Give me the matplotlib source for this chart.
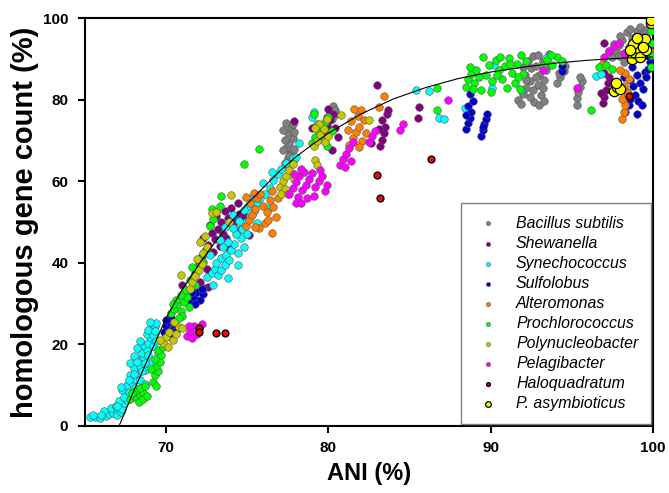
import matplotlib
matplotlib.use("Agg")
import matplotlib.pyplot as plt

plt.rcParams['font.family'] = ['Liberation Sans', 'DejaVu Sans']

# ---- data (ANI %, homologous gene count %) ----
bacillus = [(77.3, 64.6), (77.5, 65.8), (77.7, 67.0), (77.4, 68.2), (77.6, 69.4), (77.8, 70.6),
            (77.5, 71.8), (77.7, 73.0), (77.4, 74.2), (77.9, 72.2), (77.3, 70.2), (77.9, 68.0),
            (77.6, 66.2), (77.2, 67.6), (77.8, 74.0), (77.2, 72.6), (77.9, 65.4), (77.5, 63.6),
            (79.9, 75.8), (80.1, 77.0), (80.3, 78.4), (80.5, 76.4), (80.2, 75.2), (80.4, 77.6),
            (91.7, 80.0), (91.9, 79.0), (92.0, 81.4), (92.2, 83.0), (92.4, 84.6),
            (92.1, 86.2), (92.5, 87.8), (92.3, 89.4), (92.6, 90.8), (92.8, 88.4), (93.0, 86.0),
            (92.9, 83.6), (93.1, 81.2), (93.3, 84.8), (93.4, 87.2), (93.2, 89.6), (92.7, 79.4),
            (93.6, 91.2), (92.0, 88.0), (93.0, 78.6), (92.6, 82.4), (92.4, 80.6), (93.2, 82.8),
            (92.8, 85.6), (92.2, 84.8), (93.5, 88.6), (92.9, 91.0), (93.3, 79.8),
            (94.1, 84.2), (94.3, 85.6), (94.5, 87.0),
            (94.6, 88.2), (94.2, 86.6), (95.3, 80.4), (95.4, 81.8), (95.5, 83.2), (95.6, 84.6),
            (95.3, 78.7), (95.5, 85.6), (97.5, 90.6), (97.7, 92.0), (97.9, 93.4), (98.1, 94.6),
            (98.3, 91.2), (98.5, 93.0), (98.7, 95.2), (98.4, 96.6), (98.9, 92.4), (99.1, 94.0),
            (99.3, 95.6), (99.5, 97.0), (99.6, 93.4), (97.9, 90.8), (98.2, 89.2), (99.0, 96.8),
            (99.4, 91.6), (98.0, 95.6), (98.6, 97.4), (99.2, 97.8), (97.6, 93.8), (98.8, 90.2)]

shewanella = [(72.0, 40.0), (72.2, 41.6), (72.4, 43.0), (72.6, 44.4), (72.3, 46.0), (72.8, 47.4),
              (73.0, 45.8), (72.7, 49.2), (73.2, 48.4), (73.4, 50.0), (73.1, 51.6), (73.6, 52.6),
              (73.8, 51.0), (74.0, 53.4), (73.5, 47.2), (73.3, 44.2), (72.9, 42.6), (73.7, 46.0),
              (74.1, 49.0), (74.3, 50.6), (74.5, 52.0), (74.4, 54.6), (72.5, 38.6), (71.8, 37.4),
              (72.1, 35.2), (74.8, 51.4), (74.6, 48.2), (75.1, 46.8), (73.9, 43.6), (71.2, 30.6),
              (72.6, 34.0), (71.0, 34.6), (72.3, 33.8), (79.7, 72.0), (79.9, 73.6), (80.1, 75.0),
              (80.3, 76.6), (80.0, 77.8), (80.4, 73.0), (80.2, 67.6), (79.0, 73.0), (80.6, 70.8),
              (77.9, 74.8), (83.2, 68.6), (83.3, 70.2), (83.4, 71.8), (83.5, 73.4), (83.3, 75.0),
              (83.6, 76.4), (83.7, 77.6), (83.0, 83.6), (82.6, 69.4), (83.1, 72.8), (85.6, 78.2),
              (85.5, 75.5), (96.9, 79.2), (97.0, 80.8), (97.1, 82.4), (97.2, 84.0), (97.3, 85.6),
              (97.0, 86.6), (97.0, 94.0), (97.3, 92.0), (96.8, 81.6)]

synechococcus = [(65.3, 2.2), (65.6, 2.2), (65.9, 2.0), (66.3, 2.4), (66.5, 3.0), (66.2, 3.6),
                 (66.7, 3.2), (66.9, 3.8), (67.0, 2.8), (67.2, 3.4), (66.6, 4.4), (66.9, 4.8),
                 (67.3, 4.2), (67.4, 5.6), (67.6, 6.4), (67.1, 6.0), (67.5, 7.6), (67.7, 8.4),
                 (67.3, 8.8), (67.6, 10.0), (67.9, 10.6), (68.1, 11.6), (67.8, 12.4), (68.2, 13.0),
                 (68.0, 14.2), (68.4, 14.8), (68.3, 16.2), (68.6, 16.8), (68.5, 18.0), (68.8, 18.6),
                 (68.6, 19.8), (68.9, 20.4), (69.0, 21.8), (68.8, 22.6), (69.2, 22.4), (69.1, 23.8),
                 (69.3, 24.6), (69.4, 25.2), (69.0, 25.4), (68.4, 20.8), (68.2, 19.0), (68.0, 17.2),
                 (67.8, 15.4), (68.9, 17.4), (69.2, 19.6), (69.4, 20.8), (68.7, 13.8), (68.4, 11.2),
                 (68.1, 9.2), (67.9, 7.0), (68.3, 7.8), (68.7, 10.4), (69.1, 15.4), (69.5, 18.0),
                 (66.0, 2.8), (65.5, 2.8), (67.0, 5.0), (67.4, 7.0), (67.2, 9.6), (67.7, 11.2),
                 (68.0, 12.8), (68.5, 13.6), (68.2, 15.8), (68.7, 15.4), (68.9, 23.6), (69.3, 23.2),
                 (72.5, 36.5), (72.8, 37.5), (73.0, 38.5), (73.2, 37.0), (73.4, 38.2), (73.6, 39.4),
                 (73.1, 40.0), (73.4, 41.2), (73.7, 42.0), (73.9, 40.6), (74.0, 43.2), (73.5, 43.8),
                 (74.2, 44.6), (74.4, 42.4), (74.6, 46.0), (73.8, 45.2), (74.3, 47.2), (74.7, 48.4),
                 (74.9, 50.0), (75.2, 51.6), (75.4, 52.8), (75.0, 53.8), (75.6, 54.6), (75.8, 56.0),
                 (76.1, 57.0), (76.4, 58.4), (76.0, 59.6), (76.6, 60.4), (76.9, 61.8), (77.1, 63.0),
                 (76.5, 62.4), (77.4, 64.6), (77.8, 65.6), (78.0, 66.0), (75.3, 55.8), (74.8, 53.0),
                 (74.5, 50.2), (74.1, 48.6), (73.3, 45.6), (72.7, 42.0), (72.9, 34.6), (73.8, 36.2),
                 (74.4, 39.4), (74.8, 44.0), (75.0, 47.0), (75.6, 49.8), (74.1, 51.8), (73.6, 48.8),
                 (76.3, 53.4), (79.1, 77.0), (79.0, 75.7), (78.2, 69.4), (85.4, 82.4), (86.2, 82.1),
                 (86.8, 75.5), (87.1, 75.2), (88.4, 78.0), (90.2, 88.5), (90.1, 82.8), (91.9, 82.4),
                 (93.4, 90.2), (96.5, 85.8), (96.8, 86.3)]

sulfolobus = [(69.9, 23.0), (70.0, 24.4), (70.2, 25.6), (70.1, 22.6), (70.3, 26.6), (70.4, 23.8),
              (70.5, 25.0), (70.6, 23.2), (70.0, 26.0), (70.3, 21.8), (71.5, 30.4), (71.7, 31.6),
              (71.9, 32.8), (72.1, 31.0), (72.3, 32.4), (71.8, 29.8), (72.2, 33.6), (71.6, 32.8),
              (88.5, 72.8), (88.6, 74.2), (88.7, 75.6), (88.8, 77.0), (88.6, 78.4), (88.9, 79.8),
              (88.7, 81.4), (88.5, 76.2), (89.4, 71.2), (89.5, 72.6), (89.6, 74.0), (89.7, 75.4),
              (89.8, 76.6), (89.5, 73.4), (94.4, 87.0), (94.4, 88.4), (98.3, 77.0), (98.5, 78.6),
              (98.6, 80.2), (98.4, 82.0), (98.8, 83.4), (98.6, 84.8), (99.0, 86.2), (98.9, 81.2),
              (99.1, 79.6), (99.3, 78.7), (99.2, 84.0), (99.4, 82.6), (99.5, 86.8), (98.2, 85.6),
              (99.6, 85.5), (99.7, 87.6), (99.8, 89.2), (99.7, 90.8), (99.9, 92.4), (99.8, 94.0),
              (98.7, 88.0), (99.0, 76.4)]

alteromonas = [(74.9, 49.0), (75.1, 50.4), (75.3, 51.8), (75.5, 53.2), (75.2, 54.6), (75.6, 55.8),
               (75.8, 57.0), (76.0, 54.0), (76.2, 52.4), (76.4, 55.4), (76.6, 53.6), (76.8, 51.2),
               (76.1, 49.8), (75.7, 48.6), (76.5, 57.6), (75.4, 57.2), (76.9, 55.8), (75.5, 48.8),
               (76.5, 47.3), (74.9, 56.2), (76.3, 50.6), (81.3, 69.0), (81.5, 70.6), (81.7, 72.0),
               (81.9, 73.4), (81.4, 74.8), (81.8, 76.0), (82.0, 77.4), (82.2, 75.0), (81.6, 77.8),
               (82.3, 71.8), (81.2, 72.6), (82.1, 69.8), (81.9, 68.4), (83.4, 81.0), (83.1, 78.2),
               (98.1, 75.4), (98.2, 77.0), (98.3, 78.6), (98.1, 80.2), (98.4, 81.8), (98.2, 83.4),
               (98.5, 85.0), (98.3, 86.6), (98.0, 87.4), (99.8, 92.0), (99.8, 93.8), (96.9, 89.0)]

prochlorococcus = [(67.8, 6.6), (68.0, 7.4), (68.2, 6.8), (68.4, 7.6), (68.6, 8.2), (68.1, 8.6),
                   (68.4, 9.4), (68.7, 9.8), (67.9, 8.0), (68.3, 5.8), (68.6, 6.6), (68.8, 7.4),
                   (69.2, 10.8), (69.3, 12.6), (69.5, 13.4), (69.4, 14.8), (69.6, 15.6), (69.3, 16.4),
                   (69.7, 17.4), (69.5, 18.6), (69.1, 14.0), (69.4, 9.8), (69.8, 19.4),
                   (70.3, 27.6), (70.5, 28.8), (70.7, 29.8), (70.9, 28.2), (71.1, 30.4), (71.3, 31.6),
                   (70.6, 31.0), (70.9, 32.2), (71.2, 33.4), (70.4, 30.0), (71.0, 27.0), (71.4, 29.2),
                   (70.8, 26.6), (71.5, 35.8), (71.7, 36.8), (71.9, 38.0), (72.1, 39.4), (71.6, 39.0),
                   (72.0, 41.0), (72.3, 40.2), (71.8, 34.6), (72.7, 49.0), (72.9, 50.8), (73.1, 52.4),
                   (72.8, 53.2), (73.3, 54.0), (73.4, 56.4), (74.8, 64.2), (75.7, 68.0),
                   (79.0, 69.4), (79.2, 70.8), (79.4, 72.0), (79.6, 73.4), (79.8, 74.6), (80.0, 75.8),
                   (79.3, 74.0), (79.7, 70.2), (80.2, 72.4), (79.1, 76.4), (79.9, 68.6),
                   (86.7, 83.0), (86.7, 77.5), (88.5, 83.2), (88.6, 85.0), (88.8, 86.4), (89.0, 84.2),
                   (88.7, 88.0), (89.1, 87.2), (89.4, 82.4), (89.7, 86.0), (89.9, 88.6), (90.1, 84.6),
                   (90.3, 89.8), (90.5, 87.4), (90.7, 85.2), (90.9, 88.4), (91.1, 90.2), (91.3, 86.6),
                   (91.5, 84.2), (91.6, 88.8), (91.8, 82.6), (92.0, 86.4), (92.2, 89.6), (90.0, 81.8),
                   (91.0, 83.0), (89.5, 90.4), (91.9, 91.0), (89.3, 85.6), (90.4, 86.0), (91.2, 88.8),
                   (90.6, 90.6), (88.9, 82.6), (91.7, 85.6), (93.2, 88.2), (93.5, 89.8), (93.8, 88.6),
                   (94.1, 90.6), (94.4, 89.4), (93.7, 91.0), (96.2, 77.5), (96.7, 88.0), (97.1, 88.6),
                   (97.5, 87.6), (99.9, 88.0), (99.9, 91.0), (99.9, 94.0), (99.9, 96.8)]

polynucleobacter = [(69.8, 20.4), (70.0, 21.8), (70.2, 23.0), (70.4, 21.2), (70.6, 22.6), (70.8, 24.2),
                    (70.1, 19.4), (70.5, 25.4), (71.0, 24.0), (69.6, 21.0), (71.6, 35.4), (71.8, 36.8),
                    (72.0, 38.2), (72.2, 39.6), (71.9, 41.0), (72.3, 42.4), (72.5, 43.8), (72.1, 45.2),
                    (72.4, 46.6), (72.8, 52.2), (70.9, 37.0), (71.5, 33.6), (73.1, 52.5), (73.9, 50.0),
                    (77.0, 58.6), (77.2, 60.0), (77.4, 61.4), (77.6, 62.8), (77.8, 64.2), (77.3, 58.0),
                    (77.9, 60.6), (74.0, 56.6), (77.1, 57.0), (77.5, 56.8), (79.1, 68.6), (79.3, 70.0),
                    (79.5, 71.4), (79.7, 72.8), (79.4, 74.0), (79.9, 75.4), (79.2, 73.2), (79.8, 69.6),
                    (80.0, 71.0), (80.8, 76.2), (79.2, 65.2), (79.3, 64.0), (82.5, 75.0)]

pelagibacter = [(71.3, 22.0), (71.5, 23.2), (71.7, 24.4), (71.9, 22.6), (72.0, 23.8), (71.6, 21.6),
                (72.2, 24.9), (71.4, 24.6), (77.6, 57.0), (77.8, 58.4), (78.0, 59.8), (78.2, 61.2),
                (78.4, 57.8), (78.6, 59.2), (78.8, 60.6), (79.0, 62.0), (79.2, 58.6), (79.4, 60.0),
                (79.6, 61.4), (79.8, 57.6), (78.1, 56.2), (78.5, 62.4), (79.1, 56.4), (79.9, 59.2),
                (78.3, 63.0), (79.5, 62.7), (77.9, 61.8), (78.7, 56.0), (78.0, 54.6), (78.3, 54.8),
                (80.7, 64.0), (80.9, 65.4), (81.1, 66.8), (81.3, 68.2), (81.5, 69.6), (81.0, 63.5),
                (81.4, 65.0), (82.5, 69.6), (82.7, 71.0), (82.9, 72.4), (84.4, 72.6), (84.6, 74.0),
                (87.4, 80.0), (97.0, 90.6), (97.3, 92.0), (97.6, 93.2), (97.9, 94.0), (98.2, 91.4),
                (95.3, 82.8), (93.2, 87.3)]

haloquadratum = [(72.0, 24.0), (72.0, 23.0), (73.1, 22.8), (73.6, 22.8), (83.0, 61.5), (83.2, 56.0),
                 (86.3, 65.5), (98.5, 81.0)]

asymbioticus = [(98.7, 90.0), (98.9, 91.4), (99.1, 92.8), (99.3, 94.0), (98.8, 93.6), (99.5, 95.0),
                (99.2, 90.6), (99.6, 92.2), (98.6, 92.2), (99.9, 98.8), (99.9, 99.6), (97.6, 82.2),
                (97.8, 83.2), (98.0, 82.6), (97.7, 84.0), (99.0, 95.2), (99.4, 93.0)]

# fitted trend line, read at a few ANI values
fit_x = [67.1, 68, 69, 70, 71, 72, 73, 74, 75, 76, 77, 78, 79, 80, 82, 84, 86, 88, 90, 92, 94, 96, 98, 100]
fit_y = [0, 8.5, 17.5, 26.5, 33.5, 39.5, 45, 50, 54.5, 58.5, 62.5, 66, 69, 71.8, 76.5, 80.2, 83,
         85.2, 86.8, 88, 89, 89.7, 90.2, 90.5]

groups = [
    ("Bacillus subtilis", bacillus, "#808080"),
    ("Shewanella", shewanella, "#800080"),
    ("Synechococcus", synechococcus, "#00FFFF"),
    ("Sulfolobus", sulfolobus, "#0000CC"),
    ("Alteromonas", alteromonas, "#FF8000"),
    ("Prochlorococcus", prochlorococcus, "#00FF00"),
    ("Polynucleobacter", polynucleobacter, "#C8C800"),
    ("Pelagibacter", pelagibacter, "#FF00FF"),
    ("Haloquadratum", haloquadratum, "#FF0000"),
]

fig = plt.figure(figsize=(6.69, 4.93), dpi=100)
ax = fig.add_axes([0.127, 0.136, 0.849, 0.827])

handles = []
for name, pts, col in groups:
    xs = [p[0] for p in pts]
    ys = [p[1] for p in pts]
    if name == "Haloquadratum":
        h = ax.scatter(xs, ys, s=24, c=col, edgecolors="black", linewidths=1.0, label=name, zorder=3)
    else:
        h = ax.scatter(xs, ys, s=30, c=col, edgecolors="#555555", linewidths=0.4, label=name, zorder=3)
    handles.append(h)

h = ax.scatter([p[0] for p in asymbioticus], [p[1] for p in asymbioticus], s=55, c="#FFFF00",
               edgecolors="black", linewidths=0.9, label="P. asymbioticus", zorder=4)
handles.append(h)

ax.plot(fit_x, fit_y, color="black", lw=0.8, zorder=5)

ax.set_xlim(65, 100)
ax.set_ylim(0, 100)
ax.set_xticks([70, 80, 90, 100])
ax.set_yticks([0, 20, 40, 60, 80, 100])
for sp in ax.spines.values():
    sp.set_linewidth(1.5)
ax.tick_params(direction="out", length=5, width=1.5, labelsize=11)
ax.tick_params(axis="y", pad=7)
ax.tick_params(axis="x", pad=6)
for lbl in ax.get_xticklabels() + ax.get_yticklabels():
    lbl.set_fontweight("bold")

ax.set_xlabel("ANI (%)", fontsize=17, fontweight="bold", labelpad=5)
ax.set_ylabel("homologous gene count (%)", fontsize=21, fontweight="bold", labelpad=3)

leg = ax.legend(handles=handles, loc="lower right", bbox_to_anchor=(0.9965, 0.005),
                fancybox=False, edgecolor="#808080", framealpha=1, scatterpoints=1,
                markerscale=0.55, prop={"style": "italic", "size": 11.4},
                labelspacing=0.32, handletextpad=0.8, handlelength=1.9, borderpad=0.8,
                borderaxespad=0)
leg.get_frame().set_linewidth(1.0)

plt.savefig("out.png", dpi=100)
